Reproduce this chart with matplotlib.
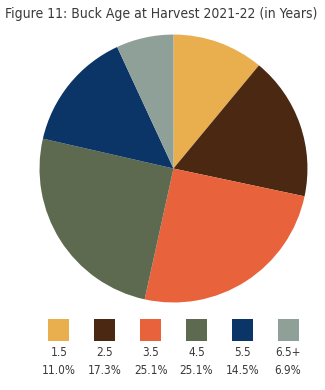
import matplotlib
matplotlib.use("Agg")
import matplotlib.pyplot as plt

ages = ["1.5", "2.5", "3.5", "4.5", "5.5", "6.5+"]
shares = [11.0, 17.3, 25.1, 25.1, 14.5, 6.9]
colors = ["#E9AE4E", "#4A2812", "#E8623C", "#5D6A4F", "#0B3566", "#8FA098"]

plt.rcParams["font.family"] = ["DejaVu Sans"]
plt.rcParams["font.stretch"] = "condensed"
TXT = "#3a3a3a"

fig = plt.figure(figsize=(3.25, 3.9), dpi=100)
fig.text(161.5 / 325, 1 - 14 / 390, "Figure 11: Buck Age at Harvest 2021-22 (in Years)",
         ha="center", va="center", fontsize=10, color=TXT)

ax = fig.add_axes([0.1215, 0.2244, 0.8246, 0.687])
ax.pie(shares, colors=colors, startangle=90, counterclock=False,
       wedgeprops=dict(linewidth=0))
ax.set_xlim(-1, 1); ax.set_ylim(-1, 1)
ax.set_aspect("equal")

lg = fig.add_axes([36 / 325, 1 - 385 / 390, 275 / 325, 75 / 390])
x = list(range(len(ages)))
lg.bar(x, 22, bottom=9, width=0.46, color=colors)
for i, (a, s) in enumerate(zip(ages, shares)):
    lg.text(i, 43, a, ha="center", va="center", fontsize=8.5, color=TXT)
    lg.text(i, 60, f"{s:.1f}%", ha="center", va="center", fontsize=8.5, color=TXT)
lg.set_xlim(-0.5, 5.5); lg.set_ylim(75, 0)
lg.axis("off")

fig.savefig("out.png", dpi=100, facecolor="white")
